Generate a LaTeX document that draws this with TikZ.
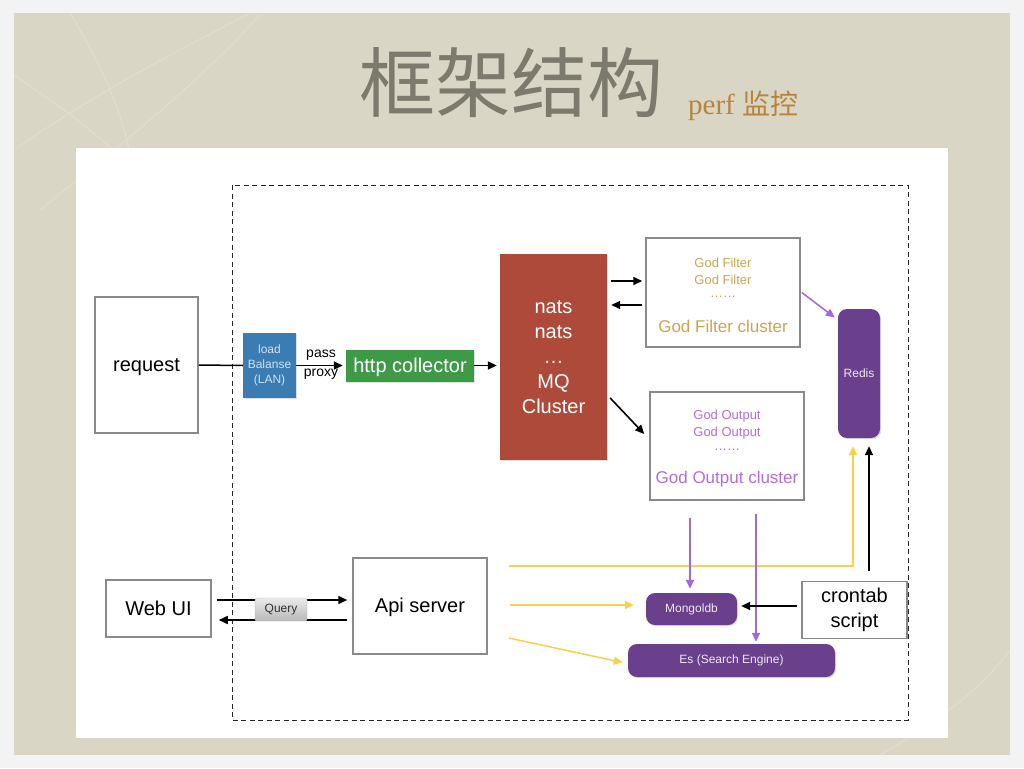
\documentclass[tikz,border=0pt]{standalone}
\usepackage{fontspec}
\setmainfont{Liberation Sans}
\newfontfamily\cjk{Noto Sans CJK SC}
\newfontfamily\serifx{Liberation Serif}
\usetikzlibrary{calc,shadows,arrows.meta}
\definecolor{bgout}{HTML}{F3F3F3}
\definecolor{paper}{HTML}{DAD6C6}
\definecolor{paperline}{HTML}{E3DFD1}
\definecolor{titlegray}{HTML}{7C796D}
\definecolor{perfc}{HTML}{B8843C}
\definecolor{boxgray}{HTML}{8A8A8A}
\definecolor{lbblue}{HTML}{3B7DB3}
\definecolor{lbtext}{HTML}{CFE0F0}
\definecolor{httpgreen}{HTML}{3F9A48}
\definecolor{mqred}{HTML}{AE4A3A}
\definecolor{gold}{HTML}{CCA452}
\definecolor{violet}{HTML}{B06DE0}
\definecolor{dbpurple}{HTML}{6A3F8C}
\definecolor{ylw}{HTML}{F4D24A}
\definecolor{arrpurple}{HTML}{A366DD}
\tikzset{
  plainbox/.style={draw=boxgray,line width=1.5pt,fill=white,inner sep=0pt},
  colbox/.style={inner sep=0pt,drop shadow={opacity=0.25,shadow xshift=1.2pt,shadow yshift=-1.2pt}},
  dbbox/.style={colbox,fill=dbpurple,rounded corners=9pt,text=white!88!dbpurple,font=\fontsize{12}{14}\selectfont},
  txt/.style={inner sep=0pt},
  big/.style={font=\fontsize{20}{24}\selectfont,text height=14.5pt,text depth=1pt},
  arr/.style={line width=1.6pt,-{Triangle[length=9pt,width=8pt]}},
  yarr/.style={draw=ylw,line width=1.5pt,-{Triangle[length=9pt,width=8pt]}},
  parr/.style={draw=arrpurple,line width=1.5pt,-{Triangle[length=9pt,width=8pt]}},
}
\begin{document}
\begin{tikzpicture}[x=1pt,y=-1pt]
\useasboundingbox (0,0) rectangle (1024,768);
% background
\fill[bgout] (0,0) rectangle (1024,768);
\fill[paper] (14,13) rectangle (1010,755);
\begin{scope}
\clip (14,13) rectangle (1010,755);
\draw[paperline,line width=0.8pt] (70,13) .. controls (110,80) and (125,120) .. (135,180);
\draw[paperline,line width=0.8pt] (14,75) .. controls (80,120) and (120,150) .. (160,200);
\draw[paperline,line width=0.8pt] (250,13) .. controls (180,50) and (100,90) .. (14,150);
\draw[paperline,line width=0.8pt] (260,15) .. controls (200,80) and (140,130) .. (40,210);
\draw[paperline,line width=0.8pt] (1010,650) .. controls (980,690) and (940,720) .. (880,755);
\end{scope}
\fill[white] (76,148) rectangle (948,738);
% title
\node[txt,text=titlegray,font=\cjk\fontsize{76}{80}\selectfont] (title) at (511,83) {框架结构};
\node[txt,text=perfc,anchor=base west] (perf) at (688,114) {\serifx\fontsize{29}{32}\selectfont perf \cjk\fontsize{28}{32}\selectfont 监控};
% dashed frame
\draw[line width=1pt,draw=black!85,dash pattern=on 5pt off 3.5pt] (232,185) rectangle (908,720);
% nodes
\node[plainbox,big,minimum width=103pt,minimum height=136pt] (request) at (146.5,365) {request};
\node[colbox,fill=lbblue,minimum width=53pt,minimum height=65pt,text=lbtext,align=center,font=\fontsize{12}{15}\selectfont] (lb) at (269.5,365.5) {load\\Balanse\\(LAN)};
\node[colbox,big,fill=httpgreen,minimum width=128pt,minimum height=32pt,text=white] (http) at (410,365.5) {http collector};
\node[colbox,fill=mqred,minimum width=107pt,minimum height=206pt,text=white,align=center,font=\fontsize{20}{25}\selectfont] (mq) at (553.5,357) {nats\\nats\\…\\MQ\\Cluster};
\node[plainbox,minimum width=154pt,minimum height=109pt] (gf) at (723,292.5) {};
\node[txt,text=gold,font=\fontsize{13}{15}\selectfont] (gf1) at (723,263) {God Filter};
\node[txt,text=gold,font=\fontsize{13}{15}\selectfont] (gf2) at (723,280) {God Filter};
\node[txt,text=gold,font=\fontsize{13}{15}\selectfont] (gf3) at (723,297) {……};
\node[txt,text=gold,font=\fontsize{17}{20}\selectfont] (gf4) at (723,326) {God Filter cluster};
\node[plainbox,minimum width=154pt,minimum height=108pt] (go) at (727,446) {};
\node[txt,text=violet,font=\fontsize{13}{15}\selectfont] (go1) at (727,416) {God Output};
\node[txt,text=violet,font=\fontsize{13}{15}\selectfont] (go2) at (727,433) {God Output};
\node[txt,text=violet,font=\fontsize{13}{15}\selectfont] (go3) at (727,450) {……};
\node[txt,text=violet,font=\fontsize{17}{20}\selectfont] (go4) at (727,479) {God Output cluster};
\node[dbbox,minimum width=42pt,minimum height=129pt] (redis) at (859,373.5) {Redis};
\node[dbbox,minimum width=91pt,minimum height=32pt] (mongo) at (691.5,609) {Mongoldb};
\node[dbbox,minimum width=207pt,minimum height=33pt] (es) at (731.5,660.5) {Es (Search Engine)};
\node[plainbox,minimum width=105pt,minimum height=57pt,align=center,font=\fontsize{20}{25}\selectfont] (cron) at (854.5,610) {crontab\\script};
\node[plainbox,big,minimum width=134pt,minimum height=96pt] (api) at (420,606) {Api server};
\node[plainbox,big,minimum width=105pt,minimum height=57pt] (webui) at (158.5,608.5) {Web UI};
% connectors
\draw[line width=1.5pt] (request.east) -- (lb.west);
\draw[arr,shorten >=3pt] (lb.east) -- node[txt,above=4pt,font=\fontsize{14}{16}\selectfont] (pass) {pass} node[txt,below=3pt,font=\fontsize{14}{16}\selectfont] (proxy) {proxy} (http.west);
\draw[arr,shorten >=3pt] (http.east) -- (http.east -| mq.west);
\draw[arr] ($(mq.east|-gf.west)+(4,-11.5)$) -- ($(gf.west)+(-3,-11.5)$);
\draw[arr] ($(gf.west)+(-3,12.5)$) -- ($(mq.east|-gf.west)+(4,12.5)$);
\draw[arr] ($(mq.east)+(3,41)$) -- ($(go.west)+(-5,-12)$);
\draw[parr] ($(gf.east)+(1,0)$) -- ($(redis.west)+(-3,-56)$);
\draw[yarr] ($(api.east)+(21,-40)$) -| ($(redis.south)+(-6,8)$);
\draw[arr] ($(cron.north)+(14.5,-9.5)$) -- ($(redis.south)+(10,8)$);
\draw[parr] ($(go.south)+(-37,17)$) -- ($(mongo.north)+(-1.5,-4)$);
\draw[parr] ($(go.south)+(29,13)$) -- ($(es.north)+(24.5,-2)$);
\draw[arr] ($(cron.west)+(-4,-4)$) -- ($(mongo.east)+(4,-3)$);
\draw[yarr] ($(api.east)+(22,-1)$) -- ($(mongo.west)+(-12,-4)$);
\draw[yarr] ($(api.east)+(21,32)$) -- ($(es.west)+(-5,2)$);
\draw[arr] ($(webui.east)+(5,-8.5)$) -- ($(api.west)+(-5,-6)$);
\draw[arr] ($(api.west)+(-5,14)$) -- ($(webui.east)+(7,11.5)$);
\node[txt,draw=black!25,rounded corners=2pt,top color=white!92!black,bottom color=black!28,minimum width=52pt,minimum height=23pt,font=\fontsize{12}{14}\selectfont,text=black!80] (query) at (281,609.5) {Query};
\end{tikzpicture}
\end{document}
